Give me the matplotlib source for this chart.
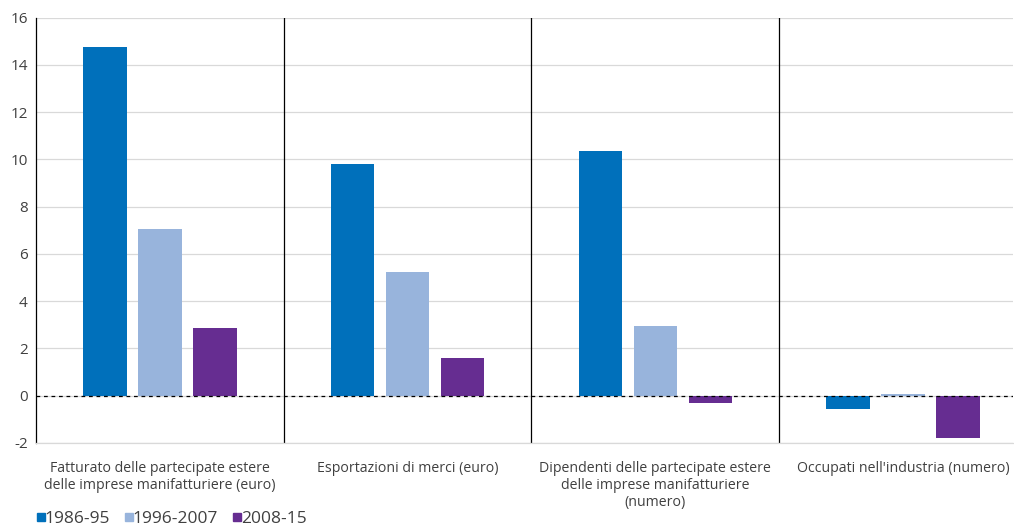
import numpy as np
import matplotlib.pyplot as plt
from matplotlib.lines import Line2D

plt.rcParams['font.family'] = ['Open Sans', 'DejaVu Sans']
plt.rcParams['axes.unicode_minus'] = False

categories = ['Fatturato delle partecipate estere\ndelle imprese manifatturiere (euro)',
              'Esportazioni di merci (euro)',
              'Dipendenti delle partecipate estere\ndelle imprese manifatturiere\n(numero)',
              "Occupati nell'industria (numero)"]
periods = ['1986-95', '1996-2007', '2008-15']
v_1986_95 = [14.75, 9.8, 10.35, -0.55]
v_1996_2007 = [7.05, 5.25, 2.95, 0.07]
v_2008_15 = [2.85, 1.6, -0.3, -1.8]
colors = ['#0070bb', '#98b4dc', '#662d91']

fig = plt.figure(figsize=(10.14, 5.31), dpi=100)
ax = fig.add_axes([36 / 1014, 1 - 443 / 531, 977 / 1014, (443 - 17.5) / 531])

x = np.arange(len(categories))
w = 0.175
step = 0.222
for i, (vals, col) in enumerate(zip([v_1986_95, v_1996_2007, v_2008_15], colors)):
    ax.bar(x + (i - 1) * step, vals, width=w, color=col, zorder=3)

ax.set_ylim(-2, 16)
ax.set_yticks(range(-2, 17, 2))
ax.set_xlim(-0.5, 3.444)
ax.yaxis.grid(True, color='#d9d9d9', linewidth=0.9, zorder=0)
ax.axhline(0, color='black', linestyle=(0, (3, 3)), linewidth=0.9, zorder=4)
for sep in [0.5, 1.5, 2.5]:
    ax.axvline(sep, color='black', linewidth=0.9, zorder=2)

for s in ['top', 'right']:
    ax.spines[s].set_visible(False)
ax.spines['left'].set_color('black')
ax.spines['left'].set_linewidth(0.9)
ax.spines['bottom'].set_color('#d9d9d9')
ax.spines['bottom'].set_linewidth(0.9)

ax.set_xticks(x)
ax.set_xticklabels(categories, fontsize=10.2, color='#404040', linespacing=1.2)
ax.tick_params(axis='x', length=0, pad=13)
ax.tick_params(axis='y', length=0, labelsize=11, labelcolor='#404040', pad=6)

handles = [Line2D([], [], marker='s', linestyle='none', markersize=5.5, color=c) for c in colors]
fig.legend(handles, periods, loc='lower left', bbox_to_anchor=(0.015, -0.022),
           ncol=3, frameon=False, fontsize=12.5, handletextpad=-0.4,
           handlelength=1.2, columnspacing=0.5, labelcolor='#404040')

fig.savefig('out.png', dpi=100)
